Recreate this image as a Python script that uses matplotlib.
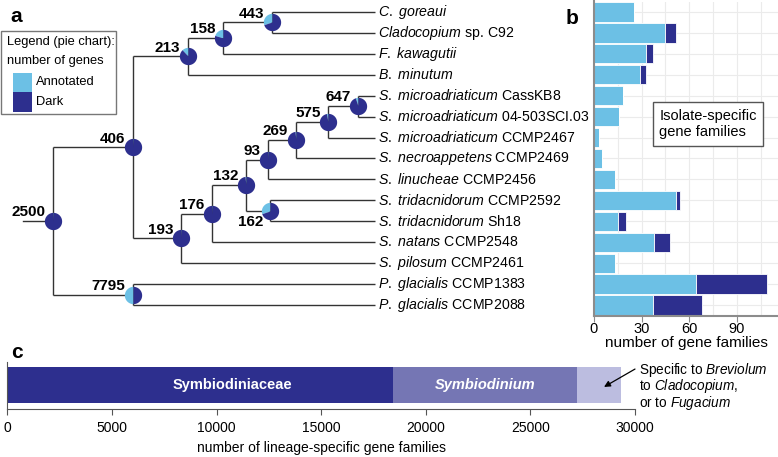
import numpy as np
import matplotlib
matplotlib.use("Agg")
import matplotlib.pyplot as plt
from matplotlib.patches import Rectangle

plt.rcParams['font.family'] = ['Liberation Sans', 'DejaVu Sans']
plt.rcParams['mathtext.fontset'] = 'custom'
plt.rcParams['mathtext.rm'] = 'Liberation Sans'
plt.rcParams['mathtext.it'] = 'Liberation Sans:italic'
plt.rcParams['mathtext.bf'] = 'Liberation Sans:bold'

LIGHT = '#6cc0e5'
DARK = '#2d2f8e'
LINE = '#333333'
SPINE = '#8c8c8c'

# ---- data ----
taxa = [
    r"$\mathit{C.\ goreaui}$",
    r"$\mathit{Cladocopium}$ sp. C92",
    r"$\mathit{F.\ kawagutii}$",
    r"$\mathit{B.\ minutum}$",
    r"$\mathit{S.\ microadriaticum}$ CassKB8",
    r"$\mathit{S.\ microadriaticum}$ 04-503SCI.03",
    r"$\mathit{S.\ microadriaticum}$ CCMP2467",
    r"$\mathit{S.\ necroappetens}$ CCMP2469",
    r"$\mathit{S.\ linucheae}$ CCMP2456",
    r"$\mathit{S.\ tridacnidorum}$ CCMP2592",
    r"$\mathit{S.\ tridacnidorum}$ Sh18",
    r"$\mathit{S.\ natans}$ CCMP2548",
    r"$\mathit{S.\ pilosum}$ CCMP2461",
    r"$\mathit{P.\ glacialis}$ CCMP1383",
    r"$\mathit{P.\ glacialis}$ CCMP2088",
]

# isolate-specific gene families (panel b)
annotated = [25, 45, 33, 29, 18, 16, 3, 5, 13, 52, 15, 38, 13, 64, 37]
dark = [0, 7, 4, 4, 0, 0, 0, 0, 0, 2, 5, 10, 0, 45, 31]

# tree topology: (node label, children); ints are tip indices
tree = ('2500', [
    ('406', [
        ('213', [('158', [('443', [0, 1]), 2]), 3]),
        ('193', [('176', [('132', [('93', [('269', [('575', [('647', [4, 5]), 6]), 7]), 8]),
                                   ('162', [9, 10])]), 11]), 12]),
    ]),
    ('7795', [13, 14]),
])
# node depth (horizontal position in the tree panel)
node_depth = {'2500': 53, '406': 133, '213': 188, '158': 223, '443': 272,
              '193': 181, '176': 212, '132': 246, '93': 268, '269': 296,
              '575': 328, '647': 358, '162': 270, '7795': 133}
tip_depth = 375
root_stub = 23
# fraction of annotated genes per node (pie charts)
annot_frac = {'2500': 0.01, '406': 0.01, '213': 0.12, '158': 0.2, '443': 0.3,
              '193': 0.01, '176': 0.01, '132': 0.02, '93': 0.01, '269': 0.02,
              '575': 0.03, '647': 0.05, '162': 0.3, '7795': 0.5}

# lineage-specific gene families (panel c)
lineages = ['Symbiodiniaceae', 'Symbiodinium', 'other']
lineage_counts = [18450, 8800, 2070]
lineage_colors = [DARK, '#7576b4', '#bcbde0']

W, H = 778, 457
fig = plt.figure(figsize=(W / 100, H / 100), dpi=100)


def px_box(x0, y0, x1, y1):
    return [x0 / W, 1 - y1 / H, (x1 - x0) / W, (y1 - y0) / H]


# overlay in pixel units for legend box and panel letters
ax_o = fig.add_axes([0, 0, 1, 1])
ax_o.set_xlim(0, W)
ax_o.set_ylim(H, 0)
ax_o.axis('off')

# ---- panel a: tree ----
ax_t = fig.add_axes(px_box(0, 1.5, W, 315.5))
ax_t.set_xlim(0, W)
ax_t.set_ylim(len(taxa) - 0.5, -0.5)
ax_t.axis('off')

nodes = []


def layout(node):
    if isinstance(node, int):
        return tip_depth, node
    name, kids = node
    x = node_depth[name]
    pos = [layout(k) for k in kids]
    ys = [p[1] for p in pos]
    y = np.mean(ys)
    ax_t.plot([x, x], [min(ys), max(ys)], color=LINE, lw=1, solid_capstyle='butt')
    for cx, cy in pos:
        ax_t.plot([x, cx], [cy, cy], color=LINE, lw=1, solid_capstyle='butt')
    nodes.append((name, x, y))
    return x, y


rx, ry = layout(tree)
ax_t.plot([root_stub, rx], [ry, ry], color=LINE, lw=1)


def wedge(t0, t1):
    th = np.linspace(t0, t1, 60)
    v = np.column_stack([np.cos(th), np.sin(th)])
    return np.vstack([[0, 0], v, [0, 0]])


for name, x, y in nodes:
    f = annot_frac[name]
    a0 = np.pi / 2
    a1 = a0 + 2 * np.pi * f
    ax_t.scatter([x], [y], marker=wedge(a0, a1), s=155, color=LIGHT, linewidths=0, zorder=3)
    ax_t.scatter([x], [y], marker=wedge(a1, a0 + 2 * np.pi), s=155, color=DARK, linewidths=0, zorder=3)
    if name == '162':
        ax_t.annotate(name, (x, y), xytext=(-5, -3), textcoords='offset points',
                      ha='right', va='top', fontsize=11, fontweight='bold')
    else:
        ax_t.annotate(name, (x, y), xytext=(-5.5, 3.5), textcoords='offset points',
                      ha='right', va='baseline', fontsize=11, fontweight='bold')

for i, lab in enumerate(taxa):
    ax_t.text(tip_depth + 3, i, lab, ha='left', va='center', fontsize=10.2)

# pie legend
ax_o.add_patch(Rectangle((0.5, 31), 116, 83, fc='white', ec='#777777', lw=1))
ax_o.text(7, 42, 'Legend (pie chart):', fontsize=9.3, va='center', ha='left')
ax_o.text(7, 61, 'number of genes', fontsize=9.3, va='center', ha='left')
ax_o.add_patch(Rectangle((13, 73), 19, 19, fc=LIGHT, ec='none'))
ax_o.add_patch(Rectangle((13, 92), 19, 20, fc=DARK, ec='none'))
ax_o.text(36, 82, 'Annotated', fontsize=9.3, va='center', ha='left')
ax_o.text(36, 102, 'Dark', fontsize=9.3, va='center', ha='left')

# ---- panel b: bars ----
ax_b = fig.add_axes(px_box(594, 1.5, W, 315.5))
rows = np.arange(len(taxa))
ax_b.barh(rows, annotated, height=0.92, color=LIGHT, edgecolor='white', linewidth=0.6)
ax_b.barh(rows, dark, left=annotated, height=0.92, color=DARK, edgecolor='white', linewidth=0.6)
ax_b.set_xlim(0, 116)
ax_b.set_ylim(len(taxa) - 0.5, -0.5)
ax_b.set_xticks([0, 30, 60, 90])
ax_b.set_xticks([15, 45, 75, 105], minor=True)
ax_b.set_yticks(rows)
ax_b.set_yticklabels([])
ax_b.tick_params(axis='y', length=0)
ax_b.tick_params(axis='x', which='major', length=4, color=SPINE, labelsize=10.5, pad=1)
ax_b.tick_params(axis='x', which='minor', length=0)
ax_b.grid(True, which='both', color='#ebebeb', lw=0.8)
ax_b.set_axisbelow(True)
for s in ['top', 'right']:
    ax_b.spines[s].set_visible(False)
for s in ['left', 'bottom']:
    ax_b.spines[s].set_color(SPINE)
    ax_b.spines[s].set_linewidth(1.5)
ax_b.set_xlabel('number of gene families', fontsize=11, labelpad=0)
ax_b.text(0.62, 0.61, 'Isolate-specific\ngene families', transform=ax_b.transAxes,
          ha='center', va='center', fontsize=10.5, multialignment='left',
          bbox=dict(boxstyle='square,pad=0.45', fc='white', ec='#555555', lw=1))

# ---- panel c: lineage-specific ----
ax_c = fig.add_axes(px_box(7.3, 362, 635, 409))
left = 0
for name, cnt, col in zip(lineages, lineage_counts, lineage_colors):
    ax_c.barh(0.51, cnt, left=left, height=0.77, color=col)
    left += cnt
ax_c.text(10740, 0.51, 'Symbiodiniaceae', color='white', fontweight='bold',
          fontsize=10.5, ha='center', va='center')
ax_c.text(lineage_counts[0] + lineage_counts[1] / 2, 0.51, 'Symbiodinium', color='white',
          fontweight='bold', fontstyle='italic', fontsize=10.5, ha='center', va='center')
ax_c.set_xlim(0, 30000)
ax_c.set_ylim(0, 1)
ax_c.set_xticks(np.arange(0, 30001, 5000))
ax_c.set_yticks([])
ax_c.tick_params(axis='x', length=4, color='#555555', labelsize=10, pad=5)
for s in ['top', 'right']:
    ax_c.spines[s].set_visible(False)
for s in ['left', 'bottom']:
    ax_c.spines[s].set_color('#555555')
ax_c.set_xlabel('number of lineage-specific gene families', fontsize=10, labelpad=4)
ax_c.annotate('', xy=(28520, 0.47), xytext=(30000, 0.85),
              arrowprops=dict(arrowstyle='-|>', color='black', lw=0.9,
                              mutation_scale=9, shrinkA=0, shrinkB=0),
              annotation_clip=False)
for yy, txt in zip([0.83, 0.48, 0.13],
                   [r"Specific to $\mathit{Breviolum}$",
                    r"to $\mathit{Cladocopium}$,",
                    r"or to $\mathit{Fugacium}$"]):
    ax_c.text(30190, yy, txt, ha='left', va='center', fontsize=9.8, clip_on=False)

# panel letters
ax_o.text(16, 16, 'a', fontsize=15, fontweight='bold', ha='center', va='center')
ax_o.text(572, 19, 'b', fontsize=15, fontweight='bold', ha='center', va='center')
ax_o.text(17, 352, 'c', fontsize=15, fontweight='bold', ha='center', va='center')

fig.savefig('out.png', dpi=100)
